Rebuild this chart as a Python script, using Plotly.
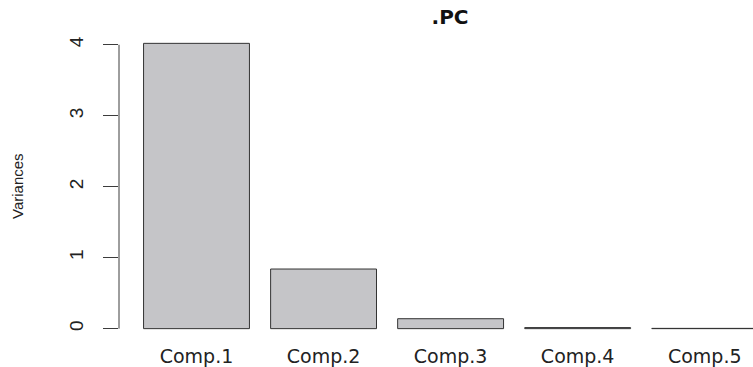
import plotly.graph_objects as go

# Variances of the principal components (scree plot)
components = ["Comp.1", "Comp.2", "Comp.3", "Comp.4", "Comp.5"]
variances = [4.02, 0.84, 0.14, 0.015, 0.004]
y_ticks = [0, 1, 2, 3, 4]

W, H = 753, 367
ml, mr, mt, mb = 119, 0, 32, 25

fig = go.Figure(
    go.Bar(
        x=components,
        y=variances,
        marker=dict(color="#c5c5c8", line=dict(color="#333333", width=1)),
        hoverinfo="x+y",
    )
)

# y axis line spans only the tick range
fig.add_shape(
    type="line", xref="paper", yref="y",
    x0=0, x1=0, y0=min(y_ticks), y1=max(y_ticks),
    line=dict(color="#3c3c3c", width=1),
)

fig.add_annotation(
    text="Variances", textangle=-90,
    xref="paper", yref="paper",
    x=(17 - ml) / (W - ml - mr), y=0.5,
    xanchor="center", yanchor="middle", showarrow=False,
    font=dict(family="Liberation Sans, Arial", size=15, color="#222"),
)

fig.update_layout(
    width=W, height=H,
    margin=dict(l=ml, r=mr, t=mt, b=mb),
    paper_bgcolor="white", plot_bgcolor="white",
    bargap=0.2 / 1.2,
    showlegend=False,
    title=dict(
        text="<b>.PC</b>", x=450 / W, xanchor="center", xref="container",
        y=1 - 17 / H, yanchor="middle", yref="container",
        font=dict(family="DejaVu Sans, Arial", size=20, color="#111"),
    ),
    xaxis=dict(
        type="category", range=[-0.61, 4.38],
        showline=False, showgrid=False, zeroline=False, ticks="",
        ticklabelstandoff=3,
        tickfont=dict(family="DejaVu Sans, Arial", size=19, color="#222"),
    ),
    yaxis=dict(
        range=[-0.16, 4.18], tickvals=y_ticks, ticktext=[str(v) for v in y_ticks],
        showline=False, showgrid=False, zeroline=False,
        ticks="outside", ticklen=15, tickcolor="#3c3c3c", tickwidth=1,
        tickangle=-90, ticklabelstandoff=12,
        tickfont=dict(family="Liberation Sans, Arial", size=19, color="#222"),
    ),
)

fig.write_html("out.html")
